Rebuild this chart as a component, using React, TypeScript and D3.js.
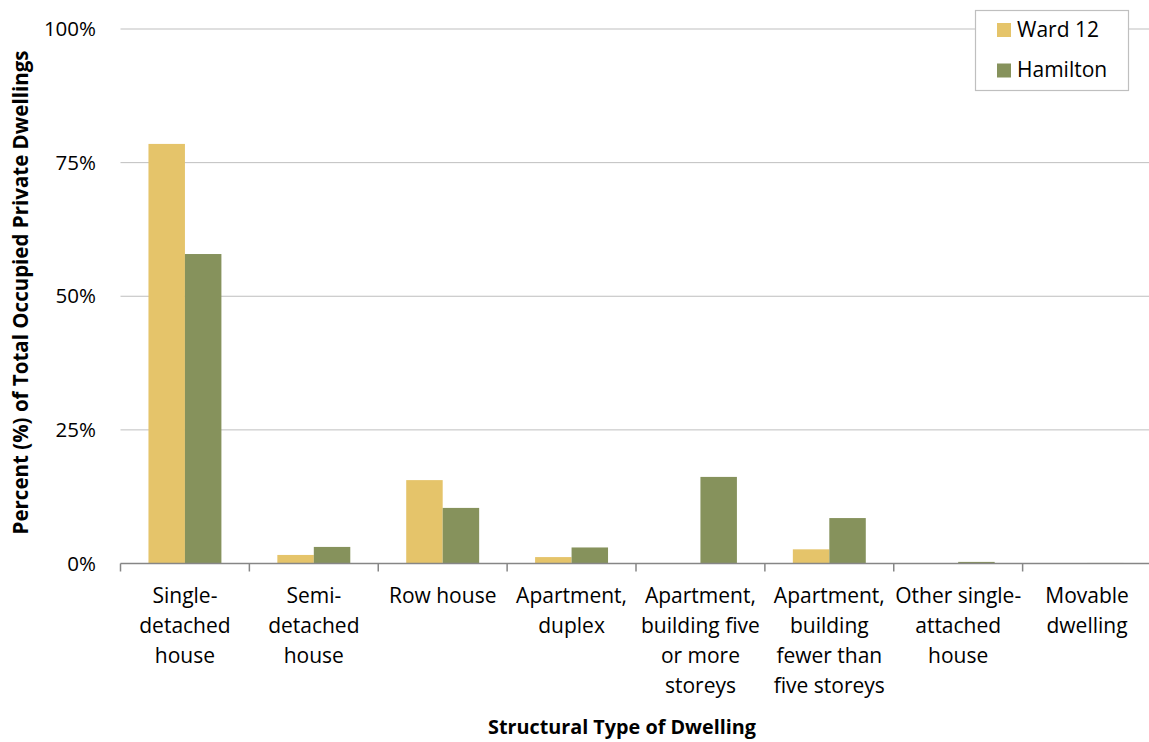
import React from "react";
import * as d3 from "d3";

const categories = [
  ["Single-", "detached", "house"],
  ["Semi-", "detached", "house"],
  ["Row house"],
  ["Apartment,", "duplex"],
  ["Apartment,", "building five", "or more", "storeys"],
  ["Apartment,", "building", "fewer than", "five storeys"],
  ["Other single-", "attached", "house"],
  ["Movable", "dwelling"],
];
const ward12 = [78.5, 1.6, 15.6, 1.2, 0, 2.65, 0, 0];
const hamilton = [57.9, 3.1, 10.4, 3.0, 16.2, 8.5, 0.3, 0.1];
const yTicks = [0, 25, 50, 75, 100];
const seriesNames = ["Ward 12", "Hamilton"];
const colors = ["#E5C46A", "#86925C"];

const FONT = "'Open Sans', sans-serif";

export default function App() {
  const W = 1149, H = 742;
  const left = 120.5, right = 1151.5, top = 29, bottom = 563.5;
  const x = d3.scaleBand<number>().domain(d3.range(categories.length)).range([left, right]);
  const bw = x.bandwidth();
  const barW = bw * 0.283;
  const y = d3.scaleLinear().domain([0, 100]).range([bottom, top]);
  const series = [ward12, hamilton];

  return (
    <svg width={W} height={H} style={{ position: "absolute", left: 0, top: 0, background: "#fff" }} fontFamily={FONT}>
      {yTicks.map((t) => (
        <g key={t}>
          {t > 0 && <line x1={left} x2={right} y1={y(t)} y2={y(t)} stroke="#BFBFBF" strokeWidth={1} />}
          <text x={96} y={y(t) + 7} textAnchor="end" fontSize={20.5} fill="#000">{t}%</text>
        </g>
      ))}
      {series.map((vals, si) =>
        vals.map((v, i) => {
          const cx = x(i)! + bw / 2;
          const x0 = si === 0 ? cx - barW : cx;
          return v > 0 ? (
            <rect key={si + "-" + i} x={x0} y={y(v)} width={barW} height={y(0) - y(v)} fill={colors[si]} />
          ) : null;
        })
      )}
      <line x1={left} x2={right} y1={bottom} y2={bottom} stroke="#868686" strokeWidth={1.5} />
      {d3.range(categories.length + 1).map((i) => {
        const xx = i < categories.length ? x(i)! : right;
        return <line key={i} x1={xx} x2={xx} y1={bottom} y2={bottom + 8} stroke="#868686" strokeWidth={1.5} />;
      })}
      {categories.map((lines, i) => (
        <text key={i} textAnchor="middle" fontSize={21} fill="#000">
          {lines.map((l, j) => (
            <tspan key={j} x={x(i)! + bw / 2} y={603 + j * 30}>{l}</tspan>
          ))}
        </text>
      ))}
      <text x={622} y={734} textAnchor="middle" fontSize={19.8} fontWeight="bold">Structural Type of Dwelling</text>
      <text transform={`translate(28,${292.5}) rotate(-90)`} textAnchor="middle" fontSize={20.5} fontWeight="bold">
        Percent (%) of Total Occupied Private Dwellings
      </text>
      <rect x={975.5} y={10.5} width={153} height={80} fill="#fff" stroke="#BFBFBF" strokeWidth={1.2} />
      {seriesNames.map((n, i) => (
        <g key={n}>
          <rect x={997} y={23 + i * 40.5} width={14} height={14} fill={colors[i]} />
          <text x={1017} y={37 + i * 39.5} fontSize={21}>{n}</text>
        </g>
      ))}
    </svg>
  );
}
